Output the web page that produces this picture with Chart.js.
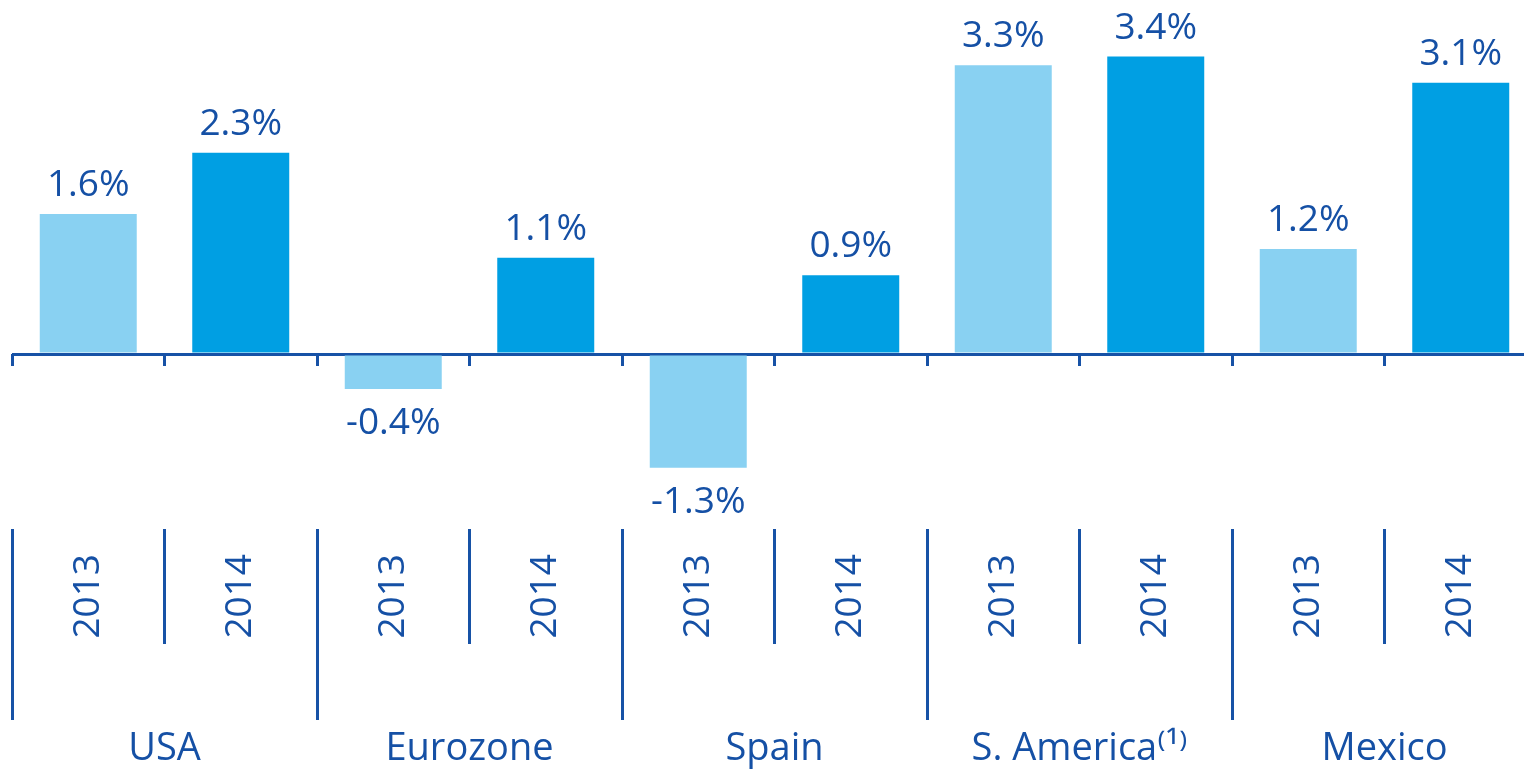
<!DOCTYPE html>
<html>
<head>
<meta charset="utf-8">
<script src="https://cdn.jsdelivr.net/npm/chart.js"></script>
<style>
  html, body { margin: 0; padding: 0; background: #ffffff; overflow: hidden; }
  #wrap { width: 1524px; height: 769px; overflow: hidden; }
  canvas { display: block; }
</style>
</head>
<body>
<div id="wrap"><canvas id="c" width="1545" height="769"></canvas></div>
<script>
// ---- data ----
const groups = ['USA', 'Eurozone', 'Spain', 'S. America\u207D\u00B9\u207E', 'Mexico'];
const years = ['2013', '2014'];
const gdp2013 = [1.6, -0.4, -1.3, 3.3, 1.2];
const gdp2014 = [2.3, 1.1, 0.9, 3.4, 3.1];

// ---- styles ----
const TEXT = '#1550A5';
const LINE = '#1752A6';
const yearColors = ['#89D1F2', '#009FE3'];
const FONT = '"Open Sans", "Noto Sans", sans-serif';

// build interleaved categories
const labels = [];
const values = [];
const colors = [];
groups.forEach((g, i) => {
  labels.push(years[0]); values.push(gdp2013[i]); colors.push(yearColors[0]);
  labels.push(years[1]); values.push(gdp2014[i]); colors.push(yearColors[1]);
});

const valueLabels = {
  id: 'valueLabels',
  afterDatasetsDraw(chart) {
    const ctx = chart.ctx;
    const meta = chart.getDatasetMeta(0);
    ctx.save();
    ctx.font = '500 37px ' + FONT;
    ctx.fillStyle = TEXT;
    ctx.textAlign = 'center';
    ctx.textBaseline = 'alphabetic';
    meta.data.forEach((bar, i) => {
      const v = values[i];
      const txt = v.toFixed(1) + '%';
      if (v >= 0) ctx.fillText(txt, bar.x, bar.y - 18);
      else ctx.fillText(txt, bar.x, bar.y + 45);
    });
    ctx.restore();
  }
};

new Chart(document.getElementById('c'), {
  type: 'bar',
  data: {
    labels: labels,
    datasets: [{
      data: values,
      backgroundColor: colors,
      borderWidth: 0,
      categoryPercentage: 1,
      barPercentage: 0.636
    }]
  },
  options: {
    responsive: false,
    animation: false,
    devicePixelRatio: 1,
    layout: { padding: { left: 12, right: 8, top: 4, bottom: 0 } },
    plugins: { legend: { display: false }, tooltip: { enabled: false } },
    scales: {
      y: {
        min: -2, max: 4,
        ticks: { display: false, stepSize: 1 },
        border: { display: false },
        grid: {
          drawTicks: false,
          lineWidth: 3,
          color: (c) => (c.tick && c.tick.value === 0 ? LINE : 'rgba(0,0,0,0)')
        },
        afterFit: (s) => { s.width = 0; }
      },
      x: {
        type: 'category',
        position: 'bottom',
        weight: 0,
        offset: true,
        border: { display: false },
        grid: {
          offset: true,
          drawOnChartArea: false,
          drawTicks: true,
          tickLength: 115,
          lineWidth: 3,
          color: LINE
        },
        ticks: {
          autoSkip: false,
          minRotation: 90,
          maxRotation: 90,
          padding: -90,
          color: TEXT,
          font: { family: FONT, size: 37, weight: '500' }
        },
        afterFit: (s) => { s.height = 115; }
      },
      xg: {
        type: 'category',
        labels: groups,
        position: 'bottom',
        weight: 1,
        offset: true,
        border: { display: false },
        grid: {
          offset: true,
          drawOnChartArea: false,
          drawTicks: true,
          tickLength: 76,
          lineWidth: 3,
          color: LINE
        },
        ticks: {
          autoSkip: false,
          maxRotation: 0,
          minRotation: 0,
          padding: 6,
          color: TEXT,
          font: { family: FONT, size: 38, weight: '500' }
        },
        afterFit: (s) => { s.height = 125; }
      },
      xz: {
        type: 'category',
        position: { y: 0 },
        offset: true,
        border: { display: false },
        grid: {
          offset: true,
          drawOnChartArea: false,
          drawTicks: true,
          tickLength: 12,
          lineWidth: 3,
          color: LINE
        },
        ticks: { display: false },
        afterFit: (s) => { s.height = 0; }
      }
    }
  },
  plugins: [valueLabels]
});
</script>
</body>
</html>
